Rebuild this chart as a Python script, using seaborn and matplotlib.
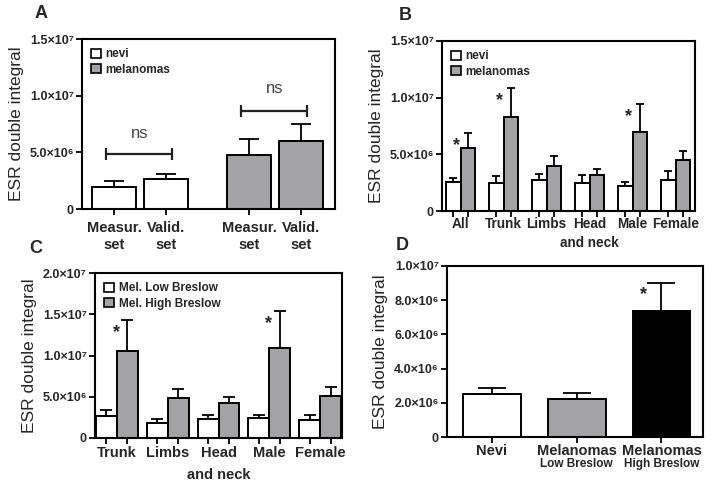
import matplotlib

matplotlib.use("Agg")
import matplotlib.pyplot as plt
import matplotlib.patches as mpatches
import matplotlib.transforms as mtransforms
import numpy as np
import pandas as pd
import seaborn as sns

# ---- data ----
# panel A
a_labels = ["Measur.\nset", "Valid.\nset", "Measur.\nset", "Valid.\nset"]
a_groups = ["nevi", "nevi", "melanomas", "melanomas"]
a_mean = [1.91e6, 2.68e6, 4.74e6, 5.97e6]
a_upper = [2.44e6, 3.09e6, 6.2e6, 7.53e6]
a_bracket_y = [4.88e6, 8.68e6]
a_ns_y = [6.7e6, 10.6e6]

# panel B
b_cats = ["All", "Trunk", "Limbs", "Head\nand neck", "Male", "Female"]
b_groups = ["nevi", "melanomas"]
b_nevi = [2.52e6, 2.43e6, 2.76e6, 2.43e6, 2.23e6, 2.76e6]
b_nevi_up = [2.88e6, 3.06e6, 3.26e6, 3.2e6, 2.58e6, 3.5e6]
b_mel = [5.58e6, 8.25e6, 3.98e6, 3.15e6, 6.97e6, 4.51e6]
b_mel_up = [6.86e6, 10.83e6, 4.87e6, 3.68e6, 9.44e6, 5.31e6]
b_star = ["All", "Trunk", "Male"]

# panel C
c_cats = ["Trunk", "Limbs", "Head\nand neck", "Male", "Female"]
c_groups = ["Mel. Low Breslow", "Mel. High Breslow"]
c_low = [2.7e6, 1.81e6, 2.25e6, 2.37e6, 2.13e6]
c_low_up = [3.42e6, 2.29e6, 2.78e6, 2.78e6, 2.78e6]
c_high = [10.6e6, 4.87e6, 4.27e6, 10.9e6, 5.11e6]
c_high_up = [14.3e6, 6.0e6, 5.0e6, 15.4e6, 6.2e6]
c_star = ["Trunk", "Male"]

# panel D
d_cats = ["Nevi", "Melanomas", "Melanomas "]
d_sub = ["", "Low Breslow", "High Breslow"]
d_mean = [2.5e6, 2.25e6, 7.34e6]
d_upper = [2.84e6, 2.58e6, 9.03e6]
d_star = ["Melanomas "]

# ---- layout / style ----
W, H = 719, 483
GRAY = "#a3a3a7"
EDGE_LW = 1.4
a_pos = [0, 1, 2.6, 3.6]

sns.set_theme(style="ticks")
plt.rcParams["font.family"] = ["Liberation Sans", "DejaVu Sans"]

fig = plt.figure(figsize=(W / 100, H / 100), dpi=100)


def add_ax(left, right, top, bottom):
    return fig.add_axes([left / W, 1 - bottom / H, (right - left) / W, (bottom - top) / H])


def sci(v):
    if v == 0:
        return "0"
    exp = int(np.floor(np.log10(v)))
    sup = str.maketrans("0123456789", "⁰¹²³⁴⁵⁶⁷⁸⁹")
    return f"{v / 10 ** exp:.1f}×10{str(exp).translate(sup)}"


def style_ax(ax, yticks, letter, lx, ly):
    ax.set_ylim(yticks[0], yticks[-1])
    ax.set_yticks(yticks)
    ax.set_yticklabels([sci(t) for t in yticks], fontsize=9, fontweight="bold")
    for s in ax.spines.values():
        s.set_visible(True)
        s.set_linewidth(1.5)
        s.set_color("black")
    ax.tick_params(axis="both", which="both", width=1.3, color="black", direction="out")
    ax.tick_params(axis="y", length=4, pad=2)
    ax.set_ylabel("ESR double integral", fontsize=12.5, labelpad=4)
    ax.set_xlabel("")
    fig.text(lx / W, 1 - ly / H, letter, fontsize=13, fontweight="bold", ha="center", va="center")


def err(ax, x, mean, upper, cap):
    lo = np.zeros(len(mean))
    hi = np.array(upper) - np.array(mean)
    ax.errorbar(x, mean, yerr=[lo, hi], fmt="none", ecolor="black",
                elinewidth=1.3, capsize=cap, capthick=1.3, zorder=1)


def star(ax, x, y, dx):
    ax.annotate("*", xy=(x, y), xytext=(dx, -9), textcoords="offset points",
                ha="center", va="center", fontsize=13, fontweight="bold")


def legend(ax, labels):
    handles = [mpatches.Patch(facecolor=c, edgecolor="black", linewidth=1.2, label=l)
               for c, l in zip(["white", GRAY], labels)]
    ax.legend(handles=handles, loc="upper left", frameon=False,
              prop={"weight": "bold", "size": 8.5}, handlelength=0.8, handleheight=0.8,
              handletextpad=0.4, labelspacing=0.3, borderaxespad=0.5, borderpad=0.3)


# ---- A ----
ax = add_ax(82, 335, 39, 209)
df_a = pd.DataFrame({"pos": a_pos, "value": a_mean, "group": a_groups})
sns.barplot(data=df_a, x="pos", y="value", hue="group", hue_order=["nevi", "melanomas"],
            palette=["white", GRAY], native_scale=True, dodge=False, width=0.85,
            edgecolor="black", linewidth=EDGE_LW, errorbar=None, legend=False, ax=ax)
err(ax, a_pos, a_mean, a_upper, 7)
ax.set_xlim(-0.62, 4.25)
ax.set_xticks(a_pos)
ax.set_xticklabels(a_labels, fontsize=10.5, fontweight="bold", linespacing=1.25)
ax.tick_params(axis="x", length=4, pad=5)
for k, (yb, yn) in enumerate(zip(a_bracket_y, a_ns_y)):
    x0, x1 = a_pos[2 * k] - 0.15, a_pos[2 * k + 1] + 0.12
    ax.plot([x0, x1], [yb, yb], color="#222222", lw=1.6, marker="|", markersize=9, mew=1.6)
    ax.text((x0 + x1) / 2, yn, "ns", ha="center", va="center", fontsize=12, color="#444444")
legend(ax, ["nevi", "melanomas"])
style_ax(ax, [0, 5e6, 1e7, 1.5e7], "A", 41, 14)


def grouped(ax, cats, groups, v0, u0, v1, u1, width, cap, stars, xlim, fs, pad, off2):
    df = pd.DataFrame({
        "cat": cats * 2,
        "group": [groups[0]] * len(cats) + [groups[1]] * len(cats),
        "value": v0 + v1,
    })
    sns.barplot(data=df, x="cat", y="value", hue="group", order=cats, hue_order=groups,
                palette=["white", GRAY], width=width, edgecolor="black", linewidth=EDGE_LW,
                errorbar=None, legend=False, ax=ax)
    xs = [[p.get_x() + p.get_width() / 2 for p in cont] for cont in ax.containers]
    err(ax, xs[0], v0, u0, cap)
    err(ax, xs[1], v1, u1, cap)
    for c in stars:
        i = cats.index(c)
        star(ax, xs[1][i], u1[i], -8)
    ax.set_xlim(*xlim)
    ax.set_xticks(xs[0] + xs[1], minor=True)
    # first line as tick label, second line ("and neck") as its own text
    ax.set_xticklabels([c.split("\n")[0] for c in cats], fontsize=fs, fontweight="bold")
    tr = mtransforms.blended_transform_factory(ax.transData, ax.transAxes)
    for i, c in enumerate(cats):
        if "\n" in c:
            ax.annotate(c.split("\n")[1], xy=(i, 0), xycoords=tr, xytext=(0, -off2),
                        textcoords="offset points", ha="center", va="center",
                        fontsize=fs, fontweight="bold")
    ax.tick_params(axis="x", which="major", length=0, pad=pad)
    ax.tick_params(axis="x", which="minor", length=4)
    legend(ax, groups)


# ---- B ----
ax = add_ax(442, 695, 41, 211)
grouped(ax, b_cats, b_groups, b_nevi, b_nevi_up, b_mel, b_mel_up, 0.68, 2.6, b_star,
        (-0.43, 5.45), 9.8, 4, 23)
style_ax(ax, [0, 5e6, 1e7, 1.5e7], "B", 405, 15)

# ---- C ----
ax = add_ax(95, 342, 273, 438)
grouped(ax, c_cats, c_groups, c_low, c_low_up, c_high, c_high_up, 0.82, 4.5, c_star,
        (-0.43, 4.43), 10.5, 6, 26.5)
style_ax(ax, [0, 5e6, 1e7, 1.5e7, 2e7], "C", 36, 248)

# ---- D ----
ax = add_ax(447, 703, 266, 437)
df_d = pd.DataFrame({"cat": d_cats, "value": d_mean})
sns.barplot(data=df_d, x="cat", y="value", hue="cat", order=d_cats,
            palette=["white", GRAY, "black"], width=0.68, edgecolor="black",
            linewidth=EDGE_LW, errorbar=None, legend=False, ax=ax)
d_x = sorted(p.get_x() + p.get_width() / 2 for cont in ax.containers for p in cont)
err(ax, d_x, d_mean, d_upper, 10)
for c in d_star:
    i = d_cats.index(c)
    star(ax, d_x[i], d_upper[i], -13)
ax.set_xlim(-0.53, 2.49)
ax.set_xticks(range(len(d_cats)))
ax.set_xticklabels([c.strip() for c in d_cats], fontsize=10.5, fontweight="bold")
ax.tick_params(axis="x", length=4, pad=1)
tr = mtransforms.blended_transform_factory(ax.transData, ax.transAxes)
for i, s in enumerate(d_sub):
    ax.text(i, -0.125, s, transform=tr, ha="center", va="top", fontsize=8.5, fontweight="bold")
style_ax(ax, [0, 2e6, 4e6, 6e6, 8e6, 1e7], "D", 402, 245)

fig.savefig("out.png", dpi=100)
